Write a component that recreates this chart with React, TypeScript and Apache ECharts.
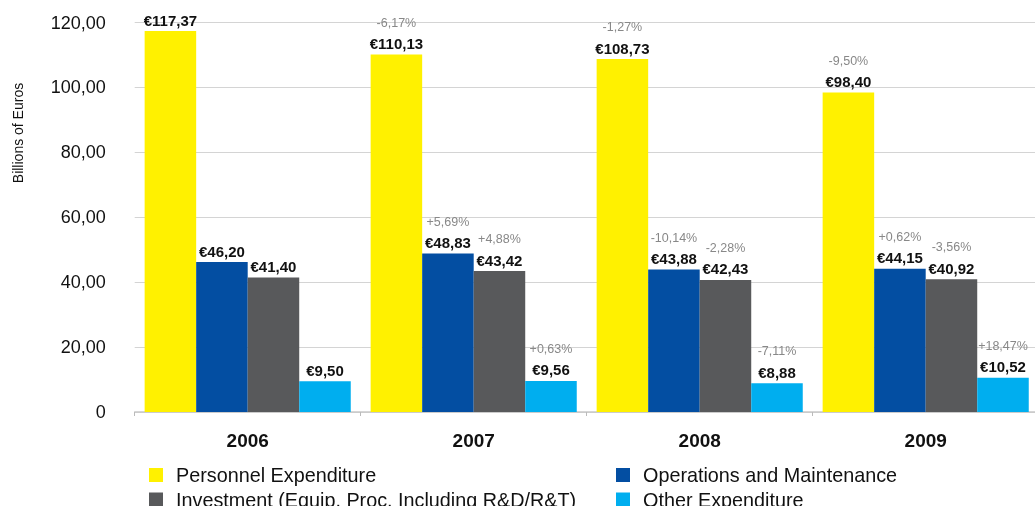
import React, { useEffect, useRef } from "react";
import * as echarts from "echarts";

const years = ["2006", "2007", "2008", "2009"];
const seriesNames = [
  "Personnel Expenditure",
  "Operations and Maintenance",
  "Investment (Equip. Proc. Including R&D/R&T)",
  "Other Expenditure",
];
const personnel = [117.37, 110.13, 108.73, 98.4];
const operations = [46.2, 48.83, 43.88, 44.15];
const investment = [41.4, 43.42, 40.7, 40.92];
const other = [9.5, 9.56, 8.88, 10.52];

const personnelLabels = ["€117,37", "€110,13", "€108,73", "€98,40"];
const operationsLabels = ["€46,20", "€48,83", "€43,88", "€44,15"];
const investmentLabels = ["€41,40", "€43,42", "€42,43", "€40,92"];
const otherLabels = ["€9,50", "€9,56", "€8,88", "€10,52"];

const personnelPct = ["", "-6,17%", "-1,27%", "-9,50%"];
const operationsPct = ["", "+5,69%", "-10,14%", "+0,62%"];
const investmentPct = ["", "+4,88%", "-2,28%", "-3,56%"];
const otherPct = ["", "+0,63%", "-7,11%", "+18,47%"];

const colors = ["#FFF100", "#034EA2", "#58595B", "#00AEEF"];
const FONT = "'Liberation Sans', Arial, Helvetica, sans-serif";

export default function App() {
  const ref = useRef<HTMLDivElement>(null);
  useEffect(() => {
    if (!ref.current) return;
    const chart = echarts.init(ref.current, undefined, { renderer: "svg" });
    const datasets = [personnel, operations, investment, other];
    const labels = [personnelLabels, operationsLabels, investmentLabels, otherLabels];
    const pcts = [personnelPct, operationsPct, investmentPct, otherPct];
    const series = datasets.map((d, i) => ({
      name: seriesNames[i],
      type: "bar",
      data: d,
      barGap: "0%",
      barCategoryGap: "8.8%",
      itemStyle: { color: colors[i] },
      label: {
        show: true,
        position: "top",
        distance: 1,
        formatter: (p: any) => {
          const pc = pcts[i][p.dataIndex];
          const v = labels[i][p.dataIndex];
          return pc ? `{p|${pc}}\n{v|${v}}` : `{v|${v}}`;
        },
        rich: {
          v: { fontSize: 15, fontWeight: "bold", color: "#111", lineHeight: 20, fontFamily: FONT },
          p: { fontSize: 12.5, color: "#888888", lineHeight: 22, fontFamily: FONT },
        },
      },
    }));
    const legendBase = {
      orient: "horizontal",
      itemWidth: 14,
      itemHeight: 14,
      icon: "rect",
      padding: 0,
      textStyle: {
        fontSize: 19.8,
        color: "#111",
        fontFamily: FONT,
        padding: [0, 0, 0, 8],
      },
    };
    const legendPos = [
      { left: 149, top: 465 },
      { left: 616, top: 465 },
      { left: 149, top: 489.5 },
      { left: 616, top: 489.5 },
    ];
    chart.setOption({
      animation: false,
      color: colors,
      grid: { left: 134.7, right: 1.3, top: 22.5, bottom: 94, containLabel: false },
      xAxis: {
        type: "category",
        data: years,
        axisLine: { lineStyle: { color: "#c8c8c8", width: 1.5 } },
        axisTick: { show: true, length: 4, lineStyle: { color: "#bbbbbb" } },
        axisLabel: {
          fontSize: 19,
          fontWeight: "bold",
          color: "#111",
          margin: 19,
          fontFamily: FONT,
        },
      },
      yAxis: {
        type: "value",
        min: 0,
        max: 120,
        interval: 20,
        axisLine: { show: false },
        axisTick: { show: false },
        splitLine: { lineStyle: { color: "#d4d4d4", width: 1.2 } },
        axisLabel: {
          fontSize: 18,
          color: "#111",
          margin: 29,
          fontFamily: FONT,
          formatter: (v: number) => (v === 0 ? "0" : v.toFixed(2).replace(".", ",")),
        },
      },
      legend: seriesNames.map((n, i) => ({ ...legendBase, data: [n], ...legendPos[i] })),
      graphic: [
        {
          type: "text",
          x: 18,
          y: 133,
          rotation: Math.PI / 2,
          style: {
            text: "Billions of Euros",
            fontSize: 14,
            fill: "#111",
            fontFamily: FONT,
            align: "center",
            verticalAlign: "middle",
          },
        },
      ],
      series,
    });
    return () => chart.dispose();
  }, []);
  return (
    <div
      ref={ref}
      style={{ position: "fixed", left: 0, top: 0, width: 1040, height: 506 }}
    />
  );
}
